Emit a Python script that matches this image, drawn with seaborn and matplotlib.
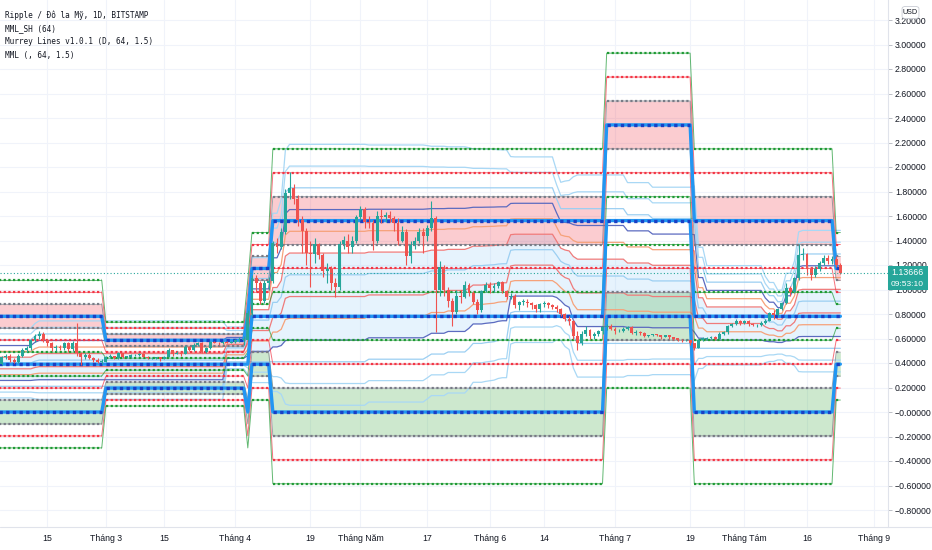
import matplotlib
matplotlib.use("Agg")
import matplotlib.pyplot as plt
import matplotlib.dates as mdates
from matplotlib.lines import Line2D
from matplotlib.patches import Rectangle, FancyBboxPatch
import numpy as np
import pandas as pd
import seaborn as sns

# daily XRP/USD candles, 2021-02-04 .. 2021-08-24 (open = previous close)
first_open = 0.39
closes = (
    [0.446, 0.457, 0.424, 0.411, 0.457, 0.506, 0.52, 0.588, 0.62, 0.637, 0.588, 0.56, 0.52,
     0.533, 0.52, 0.56, 0.512, 0.56, 0.479, 0.451, 0.465, 0.438, 0.424, 0.411, 0.411]
    + [0.451, 0.457, 0.438, 0.479, 0.451, 0.451, 0.465, 0.465, 0.473, 0.451, 0.438, 0.438, 0.446,
       0.431, 0.451, 0.506, 0.473, 0.484, 0.473, 0.533, 0.506, 0.547, 0.56, 0.49, 0.52, 0.574,
       0.566, 0.56, 0.574, 0.566, 0.574]
    + [0.585, 0.59, 0.59, 0.81, 1.09, 1.05, 0.91, 1.05, 1.07, 1.38, 1.35, 1.47, 1.79, 1.83, 1.74,
       1.57, 1.48, 1.30, 1.29, 1.37, 1.28, 1.15, 1.17, 1.05, 1.02, 1.37, 1.40, 1.35, 1.40, 1.59]
    + [1.66, 1.55, 1.54, 1.40, 1.60, 1.59, 1.61, 1.58, 1.54, 1.40, 1.47, 1.27, 1.36, 1.40, 1.47,
       1.44, 1.50, 1.58, 1.00, 1.18, 1.00, 0.91, 0.82, 0.95, 0.94, 1.04, 0.97, 0.90, 0.83, 0.99, 1.04]
    + [1.01, 1.03, 1.06, 0.99, 0.94, 0.95, 0.87, 0.90, 0.90, 0.89, 0.87, 0.84, 0.88, 0.89, 0.87,
       0.86, 0.84, 0.80, 0.76, 0.74, 0.62, 0.56, 0.64, 0.67, 0.62, 0.64, 0.66, 0.69, 0.70, 0.68]
    + [0.66, 0.665, 0.68, 0.69, 0.645, 0.655, 0.645, 0.62, 0.625, 0.635, 0.63, 0.615, 0.625, 0.61,
       0.60, 0.59, 0.585, 0.59, 0.56, 0.52, 0.59, 0.60, 0.605, 0.61, 0.60, 0.64, 0.65, 0.70, 0.72,
       0.745, 0.73]
    + [0.74, 0.72, 0.71, 0.71, 0.73, 0.745, 0.81, 0.79, 0.84, 0.89, 1.01, 0.98, 1.09, 1.28, 1.29,
       1.17, 1.12, 1.17, 1.22, 1.26, 1.23, 1.25, 1.20, 1.137]
)
highs = (
    [0.46, 0.47, 0.47, 0.44, 0.47, 0.52, 0.54, 0.60, 0.64, 0.66, 0.65, 0.60, 0.57, 0.55, 0.55,
     0.57, 0.57, 0.58, 0.73, 0.49, 0.48, 0.48, 0.45, 0.44, 0.43]
    + [0.46, 0.47, 0.46, 0.49, 0.48, 0.46, 0.47, 0.47, 0.48, 0.48, 0.455, 0.445, 0.45, 0.45, 0.46,
       0.52, 0.51, 0.50, 0.49, 0.55, 0.54, 0.56, 0.57, 0.57, 0.53, 0.58, 0.58, 0.57, 0.58, 0.58, 0.58]
    + [0.60, 0.61, 0.62, 0.83, 1.12, 1.12, 1.07, 1.08, 1.10, 1.40, 1.42, 1.50, 1.82, 1.96, 1.86,
       1.77, 1.60, 1.50, 1.40, 1.42, 1.38, 1.30, 1.22, 1.19, 1.09, 1.40, 1.44, 1.45, 1.44, 1.61]
    + [1.68, 1.67, 1.60, 1.57, 1.64, 1.66, 1.63, 1.64, 1.60, 1.58, 1.52, 1.49, 1.40, 1.43, 1.50,
       1.50, 1.53, 1.72, 1.60, 1.23, 1.20, 1.02, 0.93, 1.00, 1.00, 1.07, 1.05, 0.99, 0.92, 1.00, 1.06]
    + [1.06, 1.05, 1.07, 1.07, 1.00, 0.97, 0.96, 0.91, 0.92, 0.92, 0.90, 0.88, 0.89, 0.91, 0.90,
       0.88, 0.87, 0.85, 0.81, 0.78, 0.75, 0.66, 0.66, 0.70, 0.68, 0.65, 0.67, 0.70, 0.72, 0.72]
    + [0.69, 0.68, 0.69, 0.70, 0.70, 0.67, 0.66, 0.65, 0.63, 0.64, 0.64, 0.63, 0.63, 0.63, 0.615,
       0.60, 0.595, 0.60, 0.59, 0.56, 0.60, 0.61, 0.615, 0.62, 0.62, 0.65, 0.66, 0.71, 0.73, 0.76, 0.75]
    + [0.75, 0.75, 0.73, 0.72, 0.74, 0.76, 0.82, 0.83, 0.85, 0.90, 1.05, 1.03, 1.10, 1.37, 1.34,
       1.30, 1.18, 1.19, 1.23, 1.28, 1.28, 1.27, 1.27, 1.22]
)
lows = (
    [0.38, 0.43, 0.41, 0.40, 0.40, 0.45, 0.49, 0.51, 0.57, 0.60, 0.57, 0.54, 0.50, 0.50, 0.51,
     0.51, 0.49, 0.50, 0.46, 0.38, 0.43, 0.43, 0.41, 0.40, 0.39]
    + [0.41, 0.44, 0.43, 0.43, 0.44, 0.44, 0.44, 0.455, 0.46, 0.445, 0.43, 0.43, 0.43, 0.42, 0.43,
       0.445, 0.46, 0.47, 0.46, 0.47, 0.50, 0.50, 0.54, 0.48, 0.485, 0.515, 0.56, 0.55, 0.555, 0.56, 0.56]
    + [0.56, 0.57, 0.55, 0.58, 0.78, 0.98, 0.88, 0.89, 1.00, 1.05, 1.30, 1.33, 1.45, 1.74, 1.70,
       1.52, 1.30, 1.20, 1.02, 1.22, 1.25, 1.10, 1.05, 1.00, 0.94, 1.00, 1.33, 1.30, 1.30, 1.38]
    + [1.57, 1.50, 1.50, 1.32, 1.38, 1.54, 1.55, 1.55, 1.48, 1.36, 1.39, 1.20, 1.22, 1.33, 1.38,
       1.30, 1.40, 1.48, 0.65, 0.95, 0.95, 0.86, 0.70, 0.80, 0.89, 0.93, 0.95, 0.88, 0.80, 0.82, 0.98]
    + [0.97, 0.98, 1.01, 0.97, 0.92, 0.92, 0.85, 0.83, 0.87, 0.86, 0.84, 0.82, 0.82, 0.86, 0.85,
       0.84, 0.82, 0.78, 0.74, 0.71, 0.60, 0.51, 0.55, 0.62, 0.60, 0.60, 0.62, 0.64, 0.67, 0.67]
    + [0.64, 0.65, 0.65, 0.67, 0.64, 0.63, 0.63, 0.61, 0.61, 0.62, 0.62, 0.60, 0.61, 0.60, 0.59,
       0.58, 0.575, 0.58, 0.55, 0.51, 0.52, 0.58, 0.59, 0.60, 0.59, 0.60, 0.63, 0.64, 0.69, 0.71, 0.71]
    + [0.72, 0.70, 0.70, 0.69, 0.70, 0.72, 0.74, 0.76, 0.78, 0.83, 0.88, 0.95, 0.97, 1.08, 1.24,
       1.12, 1.08, 1.10, 1.15, 1.20, 1.21, 1.21, 1.18, 1.13]
)
days = pd.date_range("2021-02-04", "2021-08-24", freq="D")
last_price = 1.13666

# Murrey octave per period: first day, last day, 0/8 level, 1/8 step
seg_start = ["2021-02-01", "2021-03-01", "2021-04-04", "2021-04-05", "2021-04-10",
             "2021-06-29", "2021-07-20", "2021-08-23"]
seg_end = ["2021-02-28", "2021-04-03", "2021-04-04", "2021-04-09", "2021-06-28",
           "2021-07-19", "2021-08-22", "2021-08-24"]
seg_base = [0.0, 0.1953, 0.0, 0.3906, 0.0, 0.78125, 0.0, 0.3906]
seg_step = [0.09766, 0.04883, 0.09766, 0.09766, 0.1953, 0.1953, 0.1953, 0.09766]
mm_levels = [11, 10, 9, 8, 7, 6, 5, 4, 3, 2, 1, 0, -1, -2, -3]
mm_colors = ["#1f9a35", "#f23645", "#787b86", "#1e62e6", "#787b86", "#f23645", "#1f9a35",
             "#1e62e6", "#1f9a35", "#f23645", "#787b86", "#1e62e6", "#787b86", "#f23645", "#1f9a35"]

# MML_SH (64): lowest / highest close of the 64-day window
band_dates = ["2021-02-01", "2021-02-11", "2021-02-12", "2021-02-13", "2021-03-29", "2021-03-30",
              "2021-04-03", "2021-04-04", "2021-04-05", "2021-04-09", "2021-04-10", "2021-04-11",
              "2021-04-12", "2021-04-13", "2021-04-14", "2021-05-02", "2021-05-03", "2021-05-16",
              "2021-05-17", "2021-05-18", "2021-05-21", "2021-05-22", "2021-05-26", "2021-05-27",
              "2021-05-28", "2021-05-30", "2021-05-31", "2021-06-02", "2021-06-03", "2021-06-04",
              "2021-06-05", "2021-06-06", "2021-06-07", "2021-06-16", "2021-06-17", "2021-06-18",
              "2021-06-19", "2021-06-20", "2021-06-21", "2021-06-22", "2021-07-03", "2021-07-04",
              "2021-07-09", "2021-07-10", "2021-07-19", "2021-07-20", "2021-07-21", "2021-07-22",
              "2021-07-23", "2021-08-05", "2021-08-06", "2021-08-07", "2021-08-08", "2021-08-09",
              "2021-08-10", "2021-08-11", "2021-08-12", "2021-08-13", "2021-08-14", "2021-08-15",
              "2021-08-24"]
band_low = ([0.21] * 5 + [0.41] * 11
            + [0.431, 0.431, 0.451, 0.473, 0.473, 0.49, 0.49, 0.52, 0.56, 0.56, 0.566, 0.574,
               0.585, 0.59, 0.59, 0.81, 0.82, 0.82, 0.82, 0.80, 0.76, 0.74, 0.62]
            + [0.56] * 6 + [0.52] * 16)
band_high = ([0.59, 0.59, 0.62, 0.637, 0.637, 0.637, 0.637, 0.81, 1.09, 1.09, 1.38, 1.38, 1.47,
              1.79, 1.83] + [1.83] * 19
             + [1.74, 1.66, 1.66, 1.66, 1.66, 1.66, 1.66, 1.61, 1.61, 1.58, 1.58, 1.58, 1.18, 1.18,
                1.06, 1.06, 0.99, 0.95, 0.95, 0.90, 0.90, 1.01, 1.01, 1.09, 1.28, 1.29, 1.29])
band_eighths = [-2, -1, 0, 1, 2, 3, 4, 5, 6, 7, 8, 9, 10]
band_colors = ["#a9d8f5", "#a9d8f5", "#9ccff2", "#5c6bc0", "#f6a27a", "#ef7b7b", "#9ccff2",
               "#ef7b7b", "#f6a27a", "#5c6bc0", "#9ccff2", "#a9d8f5", "#a9d8f5"]

price_ticks = [-0.8, -0.6, -0.4, -0.2, 0.0, 0.2, 0.4, 0.6, 0.8, 1.0, 1.2, 1.4, 1.6, 1.8, 2.0,
               2.2, 2.4, 2.6, 2.8, 3.0, 3.2]
price_labels = ["−0.80000", "−0.60000", "−0.40000", "−0.20000", "−0.00000", "0.20000", "0.40000",
                "0.60000", "0.80000", "1.00000", "1.20000", "1.40000", "1.60000", "1.80000",
                "2.00000", "2.20000", "2.40000", "2.60000", "2.80000", "3.00000", "3.20000"]
time_ticks = ["2021-02-15", "2021-03-01", "2021-03-15", "2021-04-01", "2021-04-19", "2021-05-01",
              "2021-05-17", "2021-06-01", "2021-06-14", "2021-07-01", "2021-07-19", "2021-08-01",
              "2021-08-16", "2021-09-01"]
time_labels = ["15", "Tháng 3", "15", "Tháng 4", "19", "Tháng Năm", "17", "Tháng 6", "14",
               "Tháng 7", "19", "Tháng Tám", "16", "Tháng 9"]

sns.set_theme(style="white")
plt.rcParams["font.family"] = ["Liberation Sans", "DejaVu Sans"]

W, H = 932, 550
fig = plt.figure(figsize=(W / 100, H / 100), dpi=100)
ax = fig.add_axes([0, 23 / H, 888 / W, 527 / H])


def dn(s):
    return mdates.date2num(pd.Timestamp(s))


# --- MML_SH band ---
bx = np.array([dn(d) for d in band_dates])
blo = np.array(band_low)
bhi = np.array(band_high)
brange = bhi - blo
ax.fill_between(bx, blo + brange / 8, blo + brange * 5 / 8, color="#90caf9", alpha=0.22,
                lw=0, zorder=1)
for k, col in zip(band_eighths, band_colors):
    sns.lineplot(x=bx, y=blo + brange * k / 8, ax=ax, color=col, linewidth=0.9,
                 estimator=None, sort=False, legend=False, zorder=3)

# --- Murrey lines ---
mx = []
for s, e in zip(seg_start, seg_end):
    mx += [dn(s), dn(e)]
mx = np.array(mx)


def level(k):
    out = []
    for b, u in zip(seg_base, seg_step):
        out += [b + k * u] * 2
    return np.array(out)


ax.fill_between(mx, level(9), level(7), color="#f23645", alpha=0.25, lw=0, zorder=2)
ax.fill_between(mx, level(1), level(-1), color="#4caf50", alpha=0.28, lw=0, zorder=2)

for k, col in zip(mm_levels, mm_colors):
    y = level(k)
    if k % 4 == 0:
        sns.lineplot(x=mx, y=y, ax=ax, color="#2196f3", linewidth=2.4, estimator=None,
                     sort=False, legend=False, zorder=6)
    else:
        sns.lineplot(x=mx, y=y, ax=ax, color=col, linewidth=0.7, alpha=0.7, estimator=None,
                     sort=False, legend=False, zorder=4)
    for i in range(len(seg_start)):
        x0, x1 = mx[2 * i], mx[2 * i + 1]
        if x1 <= x0:
            continue
        if k % 4 == 0:
            ax.plot([x0, x1], [y[2 * i]] * 2, color="#1a3fc4", lw=2.4, ls=(0, (1, 1)),
                    zorder=6.5)
        else:
            ax.plot([x0, x1], [y[2 * i]] * 2, color=col, lw=1.6, ls=(0, (1, 1.1)), zorder=5)

# --- candles ---
cx = mdates.date2num(days)
c = np.array(closes)
o = np.array([first_open] + closes[:-1])
up = c >= o
ccol = np.where(up, "#26a69a", "#ef5350")
ax.vlines(cx, lows, highs, colors=ccol, lw=0.8, zorder=7)
body = np.maximum(np.abs(c - o), 0.004)
ax.bar(cx, body, bottom=np.minimum(o, c), width=0.7, color=ccol, lw=0, zorder=7.5)

ax.axhline(last_price, color="#26a69a", lw=0.8, ls=(0, (1, 2)), zorder=8)

# --- axes ---
x0 = dn("2021-02-15")
ax.set_xlim(x0 - 47.5 / 4.173, x0 + (888 - 47.5) / 4.173)
ax.set_ylim(412 / 122.5 - 527 / 122.5, 412 / 122.5)
ax.set_yticks(price_ticks)
ax.set_yticklabels(price_labels)
ax.set_xticks([dn(d) for d in time_ticks])
ax.set_xticklabels(time_labels)
ax.yaxis.tick_right()
ax.tick_params(axis="y", length=3, width=0.6, color="#b2b5be", pad=2, labelsize=6.3,
               labelcolor="#131722")
ax.tick_params(axis="x", length=0, pad=5, labelsize=6.3, labelcolor="#131722")
ax.grid(True, color="#f0f3fa", lw=0.8)
ax.set_axisbelow(True)
for side in ["left", "top", "bottom"]:
    ax.spines[side].set_visible(False)
ax.spines["right"].set_color("#e0e3eb")
ax.spines["right"].set_linewidth(0.8)
fig.add_artist(Line2D([0, 1], [23 / H, 23 / H], color="#e0e3eb", lw=0.8))

# legend lines top-left
heads = ["Ripple / Đô la Mỹ, 1D, BITSTAMP", "MML_SH (64)",
         "Murrey Lines v1.0.1 (D, 64, 1.5)", "MML (, 64, 1.5)"]
for i, t in enumerate(heads):
    fig.text(5 / W, 1 - (15 + 13.4 * i) / H, t, fontsize=5.6, color="#131722",
             family=["DejaVu Sans Mono"], va="center", ha="left")

# last price label (sits over the 1.0 / 1.2 scale labels, as on the chart)
fig.patches.append(Rectangle((888 / W, 1 - 290 / H), 40 / W, 24 / H, transform=fig.transFigure,
                             facecolor="#26a69a", edgecolor="none", zorder=5))
fig.text(907 / W, 1 - 272 / H, "1.13666", color="white", fontsize=6.3, ha="center",
         va="center", zorder=6)
fig.text(907 / W, 1 - 284 / H, "09:53:10", color="white", fontsize=6.0, ha="center",
         va="center", zorder=6)

# currency badge
fig.patches.append(FancyBboxPatch((903 / W, 1 - 18 / H), 15 / W, 11 / H,
                                  boxstyle="round,pad=0.001,rounding_size=0.004",
                                  transform=fig.transFigure, facecolor="white",
                                  edgecolor="#c8cbd3", lw=0.6, zorder=5))
fig.text(910.5 / W, 1 - 12.5 / H, "USD", fontsize=5.2, color="#131722", ha="center",
         va="center", zorder=6)

fig.savefig("out.png", dpi=100, facecolor="white")
